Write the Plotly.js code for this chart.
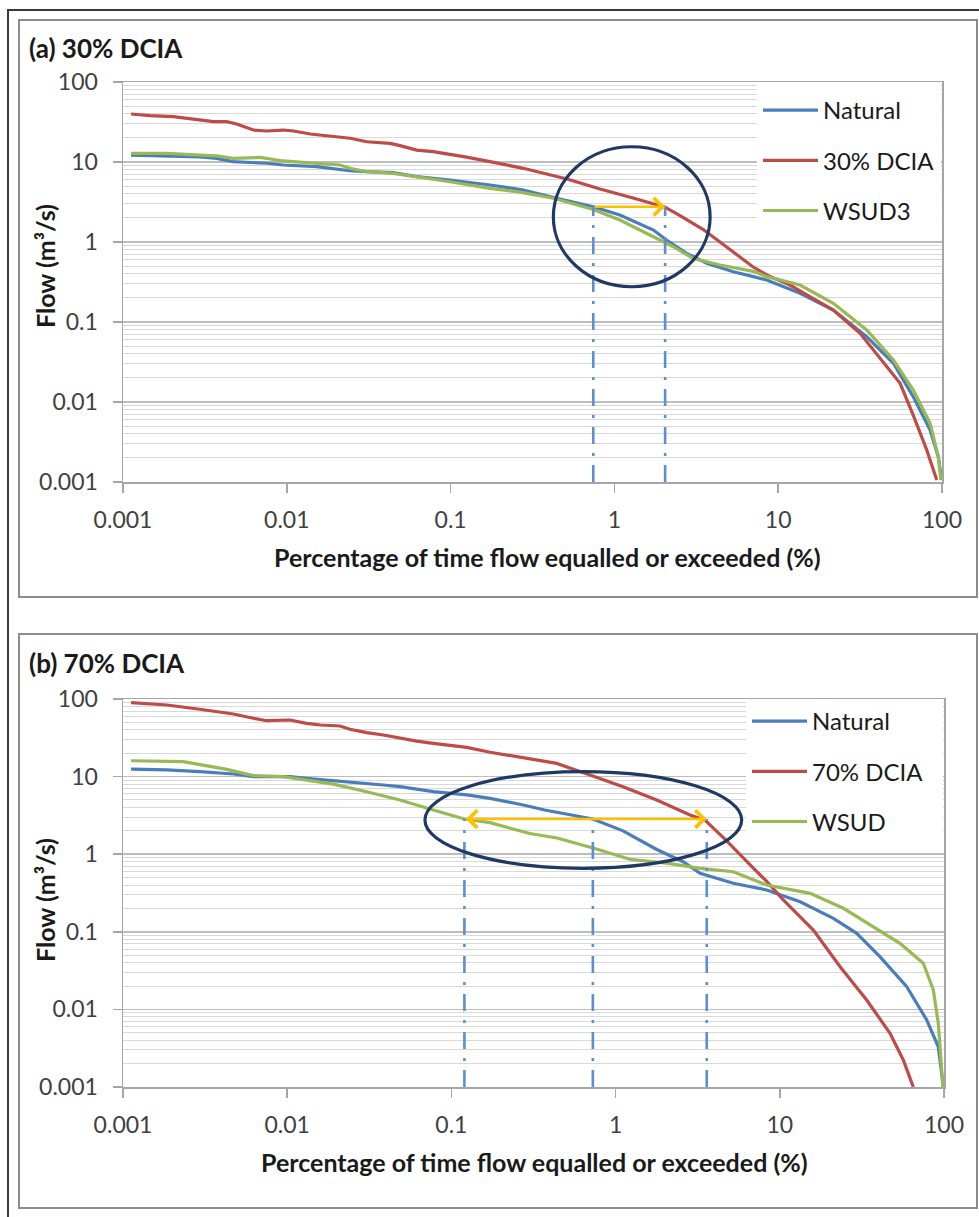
<!DOCTYPE html>
<html><head><meta charset="utf-8">
<script src="https://cdn.plot.ly/plotly-3.0.1.min.js"></script>
<style>html,body{margin:0;padding:0;background:#fff;} #chart{width:979px;height:1217px;}</style>
</head><body><div id="chart"></div>
<script>
// ---------------- DATA ----------------
const xTickVals = [0.001, 0.01, 0.1, 1, 10, 100];
const xTickText = ['0.001', '0.01', '0.1', '1', '10', '100'];
const yTickVals = [0.001, 0.01, 0.1, 1, 10, 100];
const yTickText = ['0.001', '0.01', '0.1', '1', '10', '100'];

const seriesNamesA = ['Natural', '30% DCIA', 'WSUD3'];
const seriesNamesB = ['Natural', '70% DCIA', 'WSUD'];

// Panel (a) 30% DCIA
const aNatP = [0.00112, 0.00185, 0.00295, 0.00373, 0.0047, 0.00754, 0.0095, 0.0152, 0.0243, 0.0308, 0.0447, 0.0621, 0.099, 0.174, 0.278, 0.445, 0.743, 1.08, 1.73, 2.08, 2.76, 3.66, 5.32, 7.05, 8.51, 13.6, 21.7, 34.7, 50.5, 66.8, 84.6, 94.9, 99.5];
const aNatQ = [12.2, 12.0, 11.6, 11.1, 10.1, 9.64, 9.17, 8.73, 7.78, 7.56, 7.35, 6.55, 5.96, 5.16, 4.47, 3.52, 2.76, 2.18, 1.41, 1.06, 0.722, 0.542, 0.425, 0.369, 0.335, 0.229, 0.141, 0.0655, 0.0305, 0.0116, 0.00447, 0.00207, 0.00106];
const aDciaP = [0.00112, 0.00146, 0.00203, 0.00295, 0.00356, 0.0043, 0.00494, 0.00625, 0.00754, 0.0095, 0.011, 0.0139, 0.0192, 0.0243, 0.0308, 0.0427, 0.0491, 0.0621, 0.0784, 0.099, 0.125, 0.174, 0.278, 0.52, 0.817, 1.3, 2.04, 2.5, 3.49, 5.1, 7.0, 8.51, 11.8, 15.6, 21.7, 31.6, 48.2, 55.5, 66.8, 80.7, 92.9];
const aDciaQ = [39.8, 37.9, 36.9, 33.5, 31.9, 31.9, 29.9, 25.1, 24.4, 25.1, 24.4, 22.4, 20.7, 19.8, 17.9, 17.1, 16.0, 14.1, 13.5, 12.6, 11.5, 10.1, 8.34, 6.1, 4.6, 3.55, 2.72, 2.15, 1.43, 0.8, 0.49, 0.387, 0.29, 0.207, 0.141, 0.0722, 0.0251, 0.0171, 0.0068, 0.00251, 0.00106];
const aWsudP = [0.00112, 0.00185, 0.00295, 0.00373, 0.00471, 0.00686, 0.0095, 0.0152, 0.0211, 0.0243, 0.0308, 0.0447, 0.0621, 0.099, 0.174, 0.265, 0.424, 0.743, 1.08, 1.73, 2.29, 3.03, 4.42, 7.05, 8.51, 13.6, 21.7, 34.7, 50.5, 66.8, 84.6, 94.9, 98.4];
const aWsudQ = [12.8, 12.8, 12.2, 11.9, 11.1, 11.4, 10.3, 9.64, 9.17, 8.34, 7.56, 7.22, 6.55, 5.67, 4.69, 4.2, 3.52, 2.55, 1.88, 1.16, 0.873, 0.62, 0.516, 0.43, 0.369, 0.29, 0.171, 0.0794, 0.0335, 0.0141, 0.00542, 0.00207, 0.00106];
const aRefP = [0.743, 2.04];
const aRefQ = 2.76;

// Panel (b) 70% DCIA
const bNatP = [0.00112, 0.00185, 0.00294, 0.0047, 0.00622, 0.0104, 0.0131, 0.0241, 0.0385, 0.0486, 0.0776, 0.124, 0.172, 0.274, 0.37, 0.727, 1.11, 1.78, 2.58, 3.27, 5.21, 8.32, 13.3, 21.2, 29.4, 40.7, 59.3, 78.5, 92.3, 99.1];
const bNatQ = [12.5, 12.2, 11.6, 10.8, 9.98, 9.98, 9.5, 8.6, 7.8, 7.41, 6.39, 5.8, 5.25, 4.3, 3.71, 2.84, 2.0, 1.15, 0.8, 0.567, 0.422, 0.346, 0.244, 0.149, 0.0957, 0.0478, 0.0196, 0.0073, 0.0033, 0.001];
const bDciaP = [0.00112, 0.00185, 0.00294, 0.0047, 0.00622, 0.0075, 0.0104, 0.0131, 0.0159, 0.021, 0.0241, 0.0305, 0.0385, 0.0486, 0.0615, 0.0776, 0.098, 0.124, 0.172, 0.274, 0.438, 0.698, 1.11, 1.78, 2.84, 3.5, 4.7, 6.9, 8.3, 10.5, 16.0, 23.3, 33.8, 46.9, 56.5, 65.0];
const bDciaQ = [89.6, 83.7, 73.7, 64.0, 56.4, 52.5, 53.6, 48.6, 46.2, 44.9, 40.7, 36.8, 34.4, 31.1, 28.7, 26.8, 25.5, 23.8, 20.6, 17.6, 14.8, 10.5, 7.41, 4.99, 3.2, 2.75, 1.52, 0.66, 0.45, 0.257, 0.105, 0.0355, 0.0132, 0.00492, 0.00223, 0.001];
const bWsudP = [0.00112, 0.00233, 0.00429, 0.00622, 0.00946, 0.0191, 0.0305, 0.0486, 0.0776, 0.12, 0.172, 0.3, 0.44, 0.728, 1.22, 2.1, 3.27, 5.21, 8.32, 15.3, 24.4, 37.1, 53.9, 74.8, 86.1, 92.3, 98.5];
const bWsudQ = [16.0, 15.6, 12.4, 10.3, 9.98, 8.0, 6.39, 5.0, 3.71, 2.84, 2.55, 1.85, 1.62, 1.2, 0.86, 0.76, 0.658, 0.595, 0.401, 0.313, 0.201, 0.116, 0.0711, 0.0393, 0.0178, 0.00662, 0.001];
const bRefP = [0.12, 0.727, 3.59];
const bRefQ = 2.84;

// ---------------- STYLE / LAYOUT ----------------
const W = 979, H = 1217;
const px = x => x / W, py = y => 1 - y / H;
const FONT = 'Lato, "Open Sans", sans-serif';
const C_BLUE = '#4A7EBB', C_RED = '#BE4B48', C_GREEN = '#98B954';
const C_REF = '#5B8FD0', C_ARROW = '#FFC000', C_ELL = '#1F3864';
const AXC = '#a6a6a6';
const yMin = yTickVals[0];

function series(x, y, name, color, xa, ya, legend, grp) {
  return {type: 'scatter', mode: 'lines', x: x, y: y, name: name, xaxis: xa, yaxis: ya,
    legend: legend, legendgroup: grp, line: {color: color, width: 3.2}, hoverinfo: 'skip'};
}
function refLine(p, q, xa, ya) {
  return {type: 'scatter', mode: 'lines', x: [p, p], y: [yMin, q], xaxis: xa, yaxis: ya,
    showlegend: false, hoverinfo: 'skip', line: {color: C_REF, width: 2.6, dash: '17px,9px,3px,9px'}};
}

const traces = [
  series(aNatP, aNatQ, seriesNamesA[0], C_BLUE, 'x', 'y', 'legend', 'a1'),
  series(aDciaP, aDciaQ, seriesNamesA[1], C_RED, 'x', 'y', 'legend', 'a2'),
  series(aWsudP, aWsudQ, seriesNamesA[2], C_GREEN, 'x', 'y', 'legend', 'a3'),
  series(bNatP, bNatQ, seriesNamesB[0], C_BLUE, 'x2', 'y2', 'legend2', 'b1'),
  series(bDciaP, bDciaQ, seriesNamesB[1], C_RED, 'x2', 'y2', 'legend2', 'b2'),
  series(bWsudP, bWsudQ, seriesNamesB[2], C_GREEN, 'x2', 'y2', 'legend2', 'b3')
];
aRefP.forEach(p => traces.push(refLine(p, aRefQ, 'x', 'y')));
bRefP.forEach(p => traces.push(refLine(p, bRefQ, 'x2', 'y2')));

function xAxis(d, anchor) {
  return {type: 'log', range: [-3, 2], domain: d, anchor: anchor,
    tickmode: 'array', tickvals: xTickVals, ticktext: xTickText,
    ticks: 'outside', ticklen: 9, tickwidth: 1.5, tickcolor: AXC,
    showline: true, linecolor: AXC, linewidth: 1.5, mirror: true,
    showgrid: false, zeroline: false, automargin: false, fixedrange: true,
    ticklabelstandoff: 8,
    tickfont: {family: FONT, size: 23, color: '#404040'}};
}
function yAxis(d, anchor) {
  return {type: 'log', range: [-3, 2], domain: d, anchor: anchor,
    tickmode: 'array', tickvals: yTickVals, ticktext: yTickText,
    ticks: 'outside', ticklen: 9, tickwidth: 1.5, tickcolor: AXC,
    showline: true, linecolor: AXC, linewidth: 1.5, mirror: true,
    showgrid: true, gridcolor: '#bdbdbd', gridwidth: 1.5, zeroline: false,
    minor: {dtick: 'D1', showgrid: true, gridcolor: '#d9d9d9', gridwidth: 1, ticks: ''},
    automargin: false, fixedrange: true, ticklabelstandoff: 10,
    tickfont: {family: FONT, size: 23, color: '#404040'}};
}

const legendBase = {xanchor: 'left', yanchor: 'top', bgcolor: 'rgba(0,0,0,0)', borderwidth: 0,
  font: {family: FONT, size: 24, color: '#1a1a1a'}, itemwidth: 55, tracegroupgap: 16,
  traceorder: 'grouped', itemclick: false, itemdoubleclick: false};

const L = Math.log10;
const titleFont = {family: FONT, size: 26, color: '#1a1a1a'};
const axTitleFont = {family: FONT, size: 25, color: '#1a1a1a'};

const layout = {
  width: W, height: H, autosize: false,
  margin: {l: 0, r: 0, t: 0, b: 0, pad: 0},
  paper_bgcolor: '#fff', plot_bgcolor: 'rgba(0,0,0,0)',
  showlegend: true,
  xaxis: xAxis([px(123), px(942)], 'y'),
  yaxis: yAxis([py(482), py(82)], 'x'),
  xaxis2: xAxis([px(123), px(944)], 'y2'),
  yaxis2: yAxis([py(1087), py(699)], 'x2'),
  legend: Object.assign({x: px(758), y: py(88)}, legendBase),
  legend2: Object.assign({x: px(747), y: py(699)}, legendBase),
  shapes: [
    // outer frame
    {type: 'rect', xref: 'paper', yref: 'paper', x0: px(8), x1: px(1000), y0: py(1240), y1: py(10),
      line: {color: '#3a3a3a', width: 2}, layer: 'below'},
    // panel boxes
    {type: 'rect', xref: 'paper', yref: 'paper', x0: px(19), x1: px(977), y0: py(597), y1: py(20),
      line: {color: '#8c8c8c', width: 2}, layer: 'below'},
    {type: 'rect', xref: 'paper', yref: 'paper', x0: px(19), x1: px(977), y0: py(1208), y1: py(634),
      line: {color: '#8c8c8c', width: 2}, layer: 'below'},
    // legend backgrounds (hide gridlines behind the legends)
    {type: 'rect', xref: 'paper', yref: 'paper', x0: px(757), x1: px(941), y0: py(221), y1: py(83.5),
      fillcolor: '#ffffff', line: {width: 0}, layer: 'above'},
    {type: 'rect', xref: 'paper', yref: 'paper', x0: px(746), x1: px(943), y0: py(851), y1: py(700),
      fillcolor: '#ffffff', line: {width: 0}, layer: 'above'},
    // highlight ellipses
    {type: 'circle', xref: 'x', yref: 'y', x0: 0.424, x1: 3.84, y0: 0.276, y1: 15.5,
      line: {color: C_ELL, width: 3.2}, layer: 'above'},
    {type: 'circle', xref: 'x2', yref: 'y2', x0: 0.069, x1: 5.86, y0: 0.658, y1: 11.6,
      line: {color: C_ELL, width: 3.2}, layer: 'above'}
  ],
  annotations: [
    {xref: 'paper', yref: 'paper', x: px(27), y: py(48), xanchor: 'left', yanchor: 'middle',
      text: '<b>(a) 30% DCIA</b>', showarrow: false, font: titleFont},
    {xref: 'paper', yref: 'paper', x: px(27), y: py(663), xanchor: 'left', yanchor: 'middle',
      text: '<b>(b) 70% DCIA</b>', showarrow: false, font: titleFont},
    {xref: 'paper', yref: 'paper', x: px(547), y: py(557), xanchor: 'center', yanchor: 'middle',
      text: '<b>Percentage of time flow equalled or exceeded (%)</b>', showarrow: false, font: axTitleFont},
    {xref: 'paper', yref: 'paper', x: px(534), y: py(1162), xanchor: 'center', yanchor: 'middle',
      text: '<b>Percentage of time flow equalled or exceeded (%)</b>', showarrow: false, font: axTitleFont},
    {xref: 'paper', yref: 'paper', x: px(45), y: py(266), xanchor: 'center', yanchor: 'middle', textangle: -90,
      text: '<b>Flow (m³/s)</b>', showarrow: false, font: axTitleFont},
    {xref: 'paper', yref: 'paper', x: px(45), y: py(900), xanchor: 'center', yanchor: 'middle', textangle: -90,
      text: '<b>Flow (m³/s)</b>', showarrow: false, font: axTitleFont},
    // arrows
    {xref: 'x', yref: 'y', axref: 'x', ayref: 'y', x: L(aRefP[1]), y: L(aRefQ), ax: L(aRefP[0]), ay: L(aRefQ),
      text: '', showarrow: true, arrowhead: 4, arrowsize: 1.3, arrowwidth: 2.6, arrowcolor: C_ARROW, standoff: 0},
    {xref: 'x2', yref: 'y2', axref: 'x2', ayref: 'y2', x: L(bRefP[2]), y: L(bRefQ), ax: L(bRefP[0]), ay: L(bRefQ),
      text: '', showarrow: true, arrowside: 'end+start', arrowhead: 4, startarrowhead: 4,
      arrowsize: 1.3, startarrowsize: 1.3, arrowwidth: 2.6, arrowcolor: C_ARROW, standoff: 0, startstandoff: 0}
  ]
};

Plotly.newPlot('chart', traces, layout, {displayModeBar: false, staticPlot: true});
</script>
</body></html>
